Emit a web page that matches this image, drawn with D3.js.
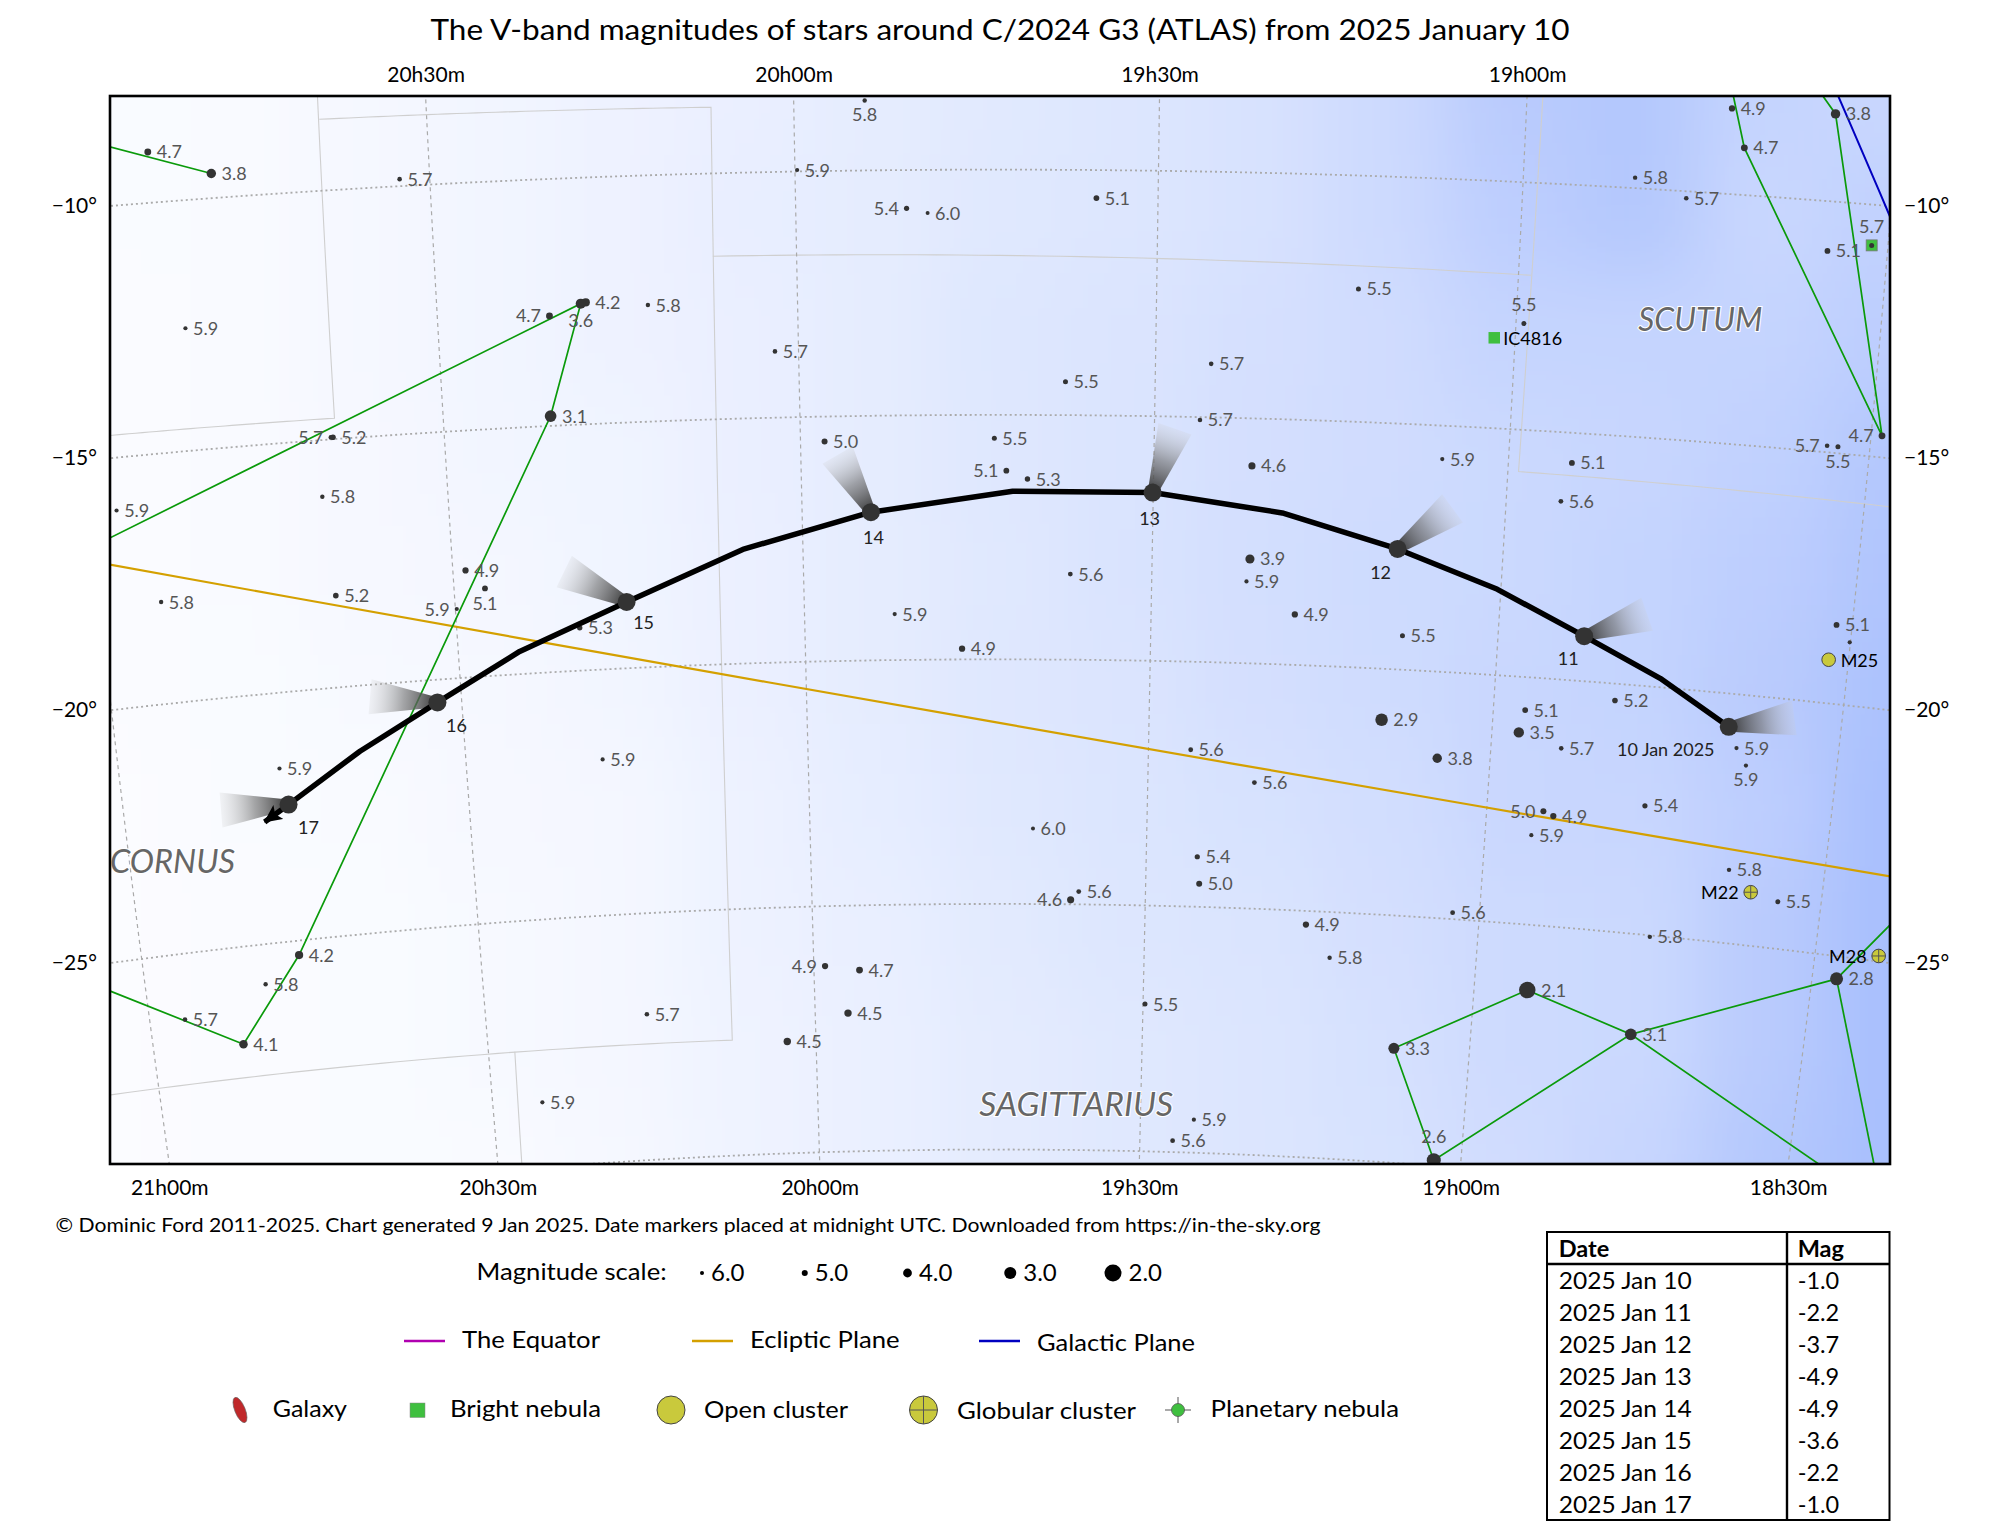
<!DOCTYPE html>
<html>
<head>
<meta charset="utf-8">
<script src="https://cdn.jsdelivr.net/npm/d3@7"></script>
<style>
body { margin: 0; background: #fff; }
svg { display: block; }
text { font-family: Lato, "Noto Sans", sans-serif; }
</style>
</head>
<body>
<div id="container"></div>
<script>
// stars: right ascension (hours), declination (degrees), V magnitude
let starRA = [20.878,20.795,20.541,19.903,19.997,19.847,19.818,20.294,20.301,20.345,
  20.208,20.846,20.033,20.350,20.658,20.655,19.966,19.726,20.963,20.676,
  20.482,20.456,20.498,20.668,20.914,19.709,19.679,18.723,18.584,18.703,
  19.585,18.848,18.777,18.581,18.522,19.220,18.989,19.422,19.626,19.436,
  19.093,19.361,18.911,18.923,18.485,18.559,18.544,19.360,19.364,19.617,
  20.324,19.870,19.773,20.770,20.301,20.769,20.823,20.948,20.866,19.983,
  19.931,19.950,20.044,20.256,20.424,19.293,19.137,18.522,18.501,18.826,
  18.954,19.161,18.961,18.898,18.646,18.630,19.438,19.077,19.343,18.917,
  18.902,18.770,18.932,19.669,19.424,19.420,19.600,19.612,18.639,18.563,
  19.040,19.258,18.745,19.220,18.464,18.920,19.497,18.759,19.115,19.417,
  19.449,19.042];
let starDec = [-8.99,-9.51,-9.86,-8.58,-9.97,-10.78,-10.88,-12.53,-12.55,-12.77,
  -12.63,-12.55,-13.65,-14.80,-14.96,-14.96,-15.51,-15.48,-16.05,-16.14,
  -17.83,-18.22,-18.60,-18.15,-17.96,-16.14,-16.31,-8.29,-8.26,-9.06,
  -10.57,-9.79,-10.14,-10.99,-10.81,-12.30,-12.85,-13.91,-14.32,-15.06,
  -15.68,-15.97,-15.61,-16.40,-14.57,-14.87,-14.87,-17.87,-18.33,-18.25,
  -19.13,-19.06,-19.78,-21.52,-21.83,-25.29,-25.80,-26.31,-26.94,-26.22,
  -26.32,-27.19,-27.73,-27.05,-28.69,-18.97,-19.31,-18.42,-18.74,-20.34,
  -20.67,-21.04,-21.13,-21.39,-21.08,-21.41,-21.80,-21.76,-22.43,-22.69,
  -22.77,-22.41,-23.19,-23.46,-23.98,-24.53,-24.74,-24.91,-23.53,-24.06,
  -24.87,-25.28,-25.03,-25.93,-25.45,-26.32,-27.01,-27.02,-27.69,-29.33,
  -29.77,-29.89];
let starMag = [4.7,3.8,5.7,5.8,5.9,5.4,6.0,4.2,3.6,4.7,
  5.8,5.9,5.7,3.1,5.7,5.2,5.0,5.5,5.9,5.8,
  4.9,5.1,5.9,5.2,5.8,5.1,5.3,4.9,3.8,4.7,
  5.1,5.8,5.7,5.1,5.7,5.5,5.5,5.7,5.5,5.7,
  5.9,4.6,5.1,5.6,4.7,5.7,5.5,3.9,5.9,5.6,
  5.3,5.9,4.9,5.9,5.9,4.2,5.8,5.7,4.1,4.9,
  4.7,4.5,4.5,5.7,5.9,4.9,5.5,5.1,5.9,5.2,
  5.1,2.9,3.5,5.7,5.9,5.9,5.6,3.8,5.6,5.0,
  4.9,5.4,5.9,6.0,5.4,5.0,5.6,4.6,5.8,5.5,
  5.6,4.9,5.8,5.8,2.8,2.1,5.5,3.1,3.3,5.9,
  5.6,2.6];
// which side of its star each magnitude label sits; N = no label
let starSide = ("RRRBRLRRBL" + "RRRRLRRRRR" + "RBLRRLRRRR" + "RRRRTRTRRR" + "RRRRLLBRRR" +
  "RRRRRRRRRL" + "RRRRRRRRNR" + "RRRRRBRRRL" + "RRRRRRRLRR" + "RRRRRRRRRR" + "RT").split("");

// comet track, Jan 10 to Jan 17 with half day vertices
let cometRA = [18.660,18.764,18.877,19.005,19.150,19.316,19.501,19.700,19.902,20.086,20.255,20.412,20.535,20.652,20.762,20.799];
let cometDec = [-20.67,-19.82,-19.09,-18.26,-17.55,-16.91,-16.56,-16.56,-16.97,-17.67,-18.65,-19.54,-20.46,-21.32,-22.26,-22.56];
let tailRA = [18.568,18.790,19.075,19.471,19.948,20.342,20.631,20.860];
let tailDec = [-20.36,-18.55,-16.67,-15.25,-15.79,-17.97,-20.24,-22.23];
let dayLabels = ["10 Jan 2025","11","12","13","14","15","16","17"];

// great circle and stick figure lines, as [ra, dec] vertices
let eclipticLine = [[21.047,-16.83],[18.332,-23.33]];
let galacticLine = [[18.613,-7.02],[18.419,-12.48]];
let stickFigures = [
  [[20.993,-8.49],[20.795,-9.51]],
  [[21.049,-16.97],[20.301,-12.55],[20.350,-14.80],[20.769,-25.29],[20.866,-26.94],[21.121,-25.02]],
  [[18.739,-7.14],[18.703,-9.06],[18.485,-14.57],[18.584,-8.26],[18.650,-7.06]],
  [[19.115,-27.69],[18.920,-26.32],[18.759,-27.02],[18.464,-25.45],[18.334,-23.12]],
  [[19.115,-27.69],[19.042,-29.89],[18.759,-27.02],[18.344,-29.86]],
  [[18.464,-25.45],[18.347,-29.87]]
];
let boundaries = [
  [[20.645,-7.38],[20.651,-14.58],[21.031,-14.54]],
  [[20.645,-8.57],[20.113,-8.66],[20.128,-27.66],[21.149,-27.59]],
  [[20.460,-27.63],[20.464,-30.62]],
  [[20.116,-11.68],[18.983,-11.87]],
  [[18.978,-7.52],[18.985,-15.85],[18.395,-15.98]]
];

// deep sky objects
let dsoNames = ["IC4816","M25","M22","M28",""];
let dsoKinds = ["nebula","open","globular","globular","nebula"];
let dsoRA = [19.029,18.528,18.604,18.407,18.522];
let dsoDec = [-13.17,-19.13,-23.93,-24.89,-10.81];

let conNames = ["SCUTUM","CORNUS","SAGITTARIUS"];
let conRA = [18.747,20.938,19.600];
let conDec = [-12.52,-23.13,-29.05];

let raTopTicks = [20.5,20,19.5,19];
let raBottomTicks = [21,20.5,20,19.5,19,18.5];
let decTicks = [-10,-15,-20,-25];
let raGrid = d3.range(18,21.6,0.5);
let decGrid = [-5,-10,-15,-20,-25,-30];

let scaleMags = [6.0,5.0,4.0,3.0,2.0];
let lineNames = ["The Equator","Ecliptic Plane","Galactic Plane"];
let symbolNames = ["Galaxy","Bright nebula","Open cluster","Globular cluster","Planetary nebula"];
let tableDates = ["2025 Jan 10","2025 Jan 11","2025 Jan 12","2025 Jan 13","2025 Jan 14","2025 Jan 15","2025 Jan 16","2025 Jan 17"];
let tableMags = ["-1.0","-2.2","-3.7","-4.9","-4.9","-3.6","-2.2","-1.0"];

let skyGlow = [
  [.02,.03,.07,.11,.16,.21,.27,.31,.36,.42,.55,.80,.85,.65,.60],
  [.02,.03,.07,.11,.16,.23,.27,.33,.36,.42,.55,.75,.85,.60,.70],
  [.01,.03,.07,.11,.16,.21,.27,.35,.39,.46,.52,.65,.65,.65,.75],
  [.01,.03,.06,.11,.13,.21,.26,.34,.40,.47,.52,.58,.62,.70,.85],
  [.01,.03,.06,.08,.13,.19,.26,.33,.41,.48,.54,.58,.66,.75,.90],
  [.01,.02,.05,.07,.11,.19,.27,.34,.39,.47,.53,.60,.66,.80,.95],
  [.00,.02,.03,.06,.09,.17,.25,.32,.38,.43,.50,.60,.62,.75,1.0],
  [.00,.01,.02,.05,.08,.17,.22,.30,.36,.40,.47,.55,.58,.80,1.0],
  [.00,.01,.02,.05,.08,.14,.20,.28,.33,.37,.45,.55,.58,.80,1.0],
  [.00,.01,.02,.03,.07,.14,.20,.28,.33,.37,.43,.52,.62,.85,1.0]
];

let width = 1999, height = 1525;
let plot = {left: 110, right: 1890, top: 96, bottom: 1164};

let projection = d3.geoStereographic()
  .reflectX(true)
  .rotate([-295.77, 19.4])
  .scale(5600)
  .translate([1000, 630])
  .precision(0.1);
let geoPath = d3.geoPath(projection);
let lineGen = d3.line();
let sky = function(ra, dec) { return projection([ra * 15, dec]); };

let radius = d3.scaleLinear().domain([2,3,4,5,6]).range([8.5,6,4.4,3,2]);
let glowColor = d3.scaleLinear().domain([0,1]).range(["#fbfcff","#a8bffd"]);

let svg = d3.select("#container").append("svg").attr("width", width).attr("height", height);
let defs = svg.append("defs");
defs.append("clipPath").attr("id", "plotClip").append("rect")
  .attr("x", plot.left).attr("y", plot.top)
  .attr("width", plot.right - plot.left).attr("height", plot.bottom - plot.top);
let blur = defs.append("filter").attr("id", "skyBlur").attr("filterUnits", "userSpaceOnUse")
  .attr("x", -300).attr("y", -300).attr("width", 2600).attr("height", 2100);
blur.append("feGaussianBlur").attr("stdDeviation", 38);

let text = function(parent, x, y, str, size, opts) {
  opts = opts || {};
  let t = parent.append("text").attr("x", x).attr("y", y).text(str)
    .attr("font-size", size)
    .attr("fill", opts.fill || "#000")
    .attr("text-anchor", opts.anchor || "start");
  if (opts.weight) t.attr("font-weight", opts.weight);
  if (opts.fit) t.attr("textLength", opts.fit).attr("lengthAdjust", "spacingAndGlyphs");
  return t;
};

// --- plot area ---
let g = svg.append("g").attr("clip-path", "url(#plotClip)");

// backdrop
let colX = d3.scaleBand().domain(d3.range(skyGlow[0].length)).range([plot.left - 64, plot.right + 64]);
let rowY = d3.scaleBand().domain(d3.range(skyGlow.length)).range([plot.top - 60, plot.bottom + 60]);
let nCol = skyGlow[0].length, nRow = skyGlow.length;
let skyG = g.append("g").attr("filter", "url(#skyBlur)");
skyGlow.forEach(function(row, r) {
  row.forEach(function(v, c) {
    let x0 = colX(c) - (c === 0 ? 200 : 0), x1 = colX(c) + colX.bandwidth() + (c === nCol - 1 ? 200 : 0.5);
    let y0 = rowY(r) - (r === 0 ? 200 : 0), y1 = rowY(r) + rowY.bandwidth() + (r === nRow - 1 ? 200 : 0.5);
    skyG.append("rect").attr("x", x0).attr("y", y0).attr("width", x1 - x0).attr("height", y1 - y0)
      .attr("fill", glowColor(v));
  });
});

// boundaries, dense so parallels bend properly
let dense = function(verts) {
  let out = [];
  d3.pairs(verts).forEach(function(p) {
    d3.range(0, 1, 0.025).forEach(function(t) {
      out.push(sky(p[0][0] + (p[1][0] - p[0][0]) * t, p[0][1] + (p[1][1] - p[0][1]) * t));
    });
  });
  let last = verts[verts.length - 1];
  out.push(sky(last[0], last[1]));
  return out;
};
g.selectAll("path.boundary").data(boundaries).join("path").attr("class", "boundary")
  .attr("d", function(d) { return lineGen(dense(d)); })
  .attr("fill", "none").attr("stroke", "#cfcfcf").attr("stroke-width", 1.1);

// grid
g.selectAll("path.ra").data(raGrid).join("path").attr("class", "ra")
  .attr("d", function(d) { return lineGen(dense([[d,-35],[d,-3]])); })
  .attr("fill", "none").attr("stroke", "#aaa").attr("stroke-width", 1.2).attr("stroke-dasharray", "4,4");
g.selectAll("path.dec").data(decGrid).join("path").attr("class", "dec")
  .attr("d", function(d) { return lineGen(dense([[17.8,d],[21.6,d]])); })
  .attr("fill", "none").attr("stroke", "#aaa").attr("stroke-width", 1.8).attr("stroke-dasharray", "2,3");

// great circles
let geoLine = function(verts) {
  return geoPath({type: "LineString", coordinates: verts.map(function(v) { return [v[0] * 15, v[1]]; })});
};
g.append("path").attr("d", geoLine(eclipticLine)).attr("fill", "none").attr("stroke", "#d4a000").attr("stroke-width", 2.2);
g.append("path").attr("d", geoLine(galacticLine)).attr("fill", "none").attr("stroke", "#0000c0").attr("stroke-width", 2);
g.selectAll("path.stick").data(stickFigures).join("path").attr("class", "stick")
  .attr("d", function(d) { return lineGen(d.map(function(v) { return sky(v[0], v[1]); })); })
  .attr("fill", "none").attr("stroke", "#0a9a0a").attr("stroke-width", 1.7);

// stars
starRA.forEach(function(ra, i) {
  let p = sky(ra, starDec[i]), m = starMag[i], r = radius(m), side = starSide[i];
  g.append("circle").attr("cx", p[0]).attr("cy", p[1]).attr("r", r).attr("fill", "#333");
  if (side === "N") return;
  let label = m.toFixed(1);
  let opts = {fill: "#555"};
  if (side === "R") text(g, p[0] + r + 5.5, p[1] + 6.5, label, 18, opts);
  if (side === "L") { opts.anchor = "end"; text(g, p[0] - r - 5, p[1] + 6.5, label, 18, opts); }
  if (side === "T") { opts.anchor = "middle"; text(g, p[0], p[1] - r - 10, label, 18, opts); }
  if (side === "B") { opts.anchor = "middle"; text(g, p[0], p[1] + r + 18.5, label, 18, opts); }
});

// deep sky objects
let drawCluster = function(parent, x, y, r, cross) {
  parent.append("circle").attr("cx", x).attr("cy", y).attr("r", r)
    .attr("fill", "#c9c93c").attr("stroke", "#444").attr("stroke-width", 1);
  if (cross) {
    parent.append("path").attr("d", "M" + (x - r) + "," + y + "H" + (x + r) + "M" + x + "," + (y - r) + "V" + (y + r))
      .attr("stroke", "#555").attr("stroke-width", 1);
  }
};
dsoRA.forEach(function(ra, i) {
  let p = sky(ra, dsoDec[i]), kind = dsoKinds[i], name = dsoNames[i];
  if (kind === "nebula") {
    let s = name ? 11.5 : 11;
    g.append("rect").attr("x", p[0] - s / 2).attr("y", p[1] - s / 2).attr("width", s).attr("height", s)
      .attr("fill", "#3fbf3f").attr("stroke", name ? "none" : "#777").attr("stroke-width", 0.8);
    if (!name) g.append("circle").attr("cx", p[0]).attr("cy", p[1]).attr("r", 2.5).attr("fill", "#333");
    if (name) text(g, p[0] + 9, p[1] + 7, name, 18);
  } else {
    drawCluster(g, p[0], p[1], 6.8, kind === "globular");
    if (name === "M25") text(g, p[0] + 12, p[1] + 7, name, 18);
    else text(g, p[0] - 12, p[1] + 7, name, 18, {anchor: "end"});
  }
});

// constellation names
let conFit = [124,125,194];
conNames.forEach(function(name, i) {
  let p = sky(conRA[i], conDec[i]);
  text(g, p[0], p[1], name, 32, {anchor: "middle", fill: "#666", fit: conFit[i]})
    .attr("font-style", "italic").attr("stroke", "#fff").attr("stroke-width", 2.2)
    .attr("paint-order", "stroke").attr("dominant-baseline", "central");
});

// comet tails
let headPoints = dayLabels.map(function(d, i) { return sky(cometRA[i * 2], cometDec[i * 2]); });
tailRA.forEach(function(ra, i) {
  let h = headPoints[i], t = sky(ra, tailDec[i]);
  let dx = t[0] - h[0], dy = t[1] - h[1], len = Math.hypot(dx, dy);
  let nx = -dy / len, ny = dx / len;
  let grad = defs.append("linearGradient").attr("id", "tail" + i).attr("gradientUnits", "userSpaceOnUse")
    .attr("x1", h[0]).attr("y1", h[1]).attr("x2", t[0]).attr("y2", t[1]);
  grad.append("stop").attr("offset", 0).attr("stop-color", "#333").attr("stop-opacity", 0.98);
  grad.append("stop").attr("offset", 0.5).attr("stop-color", "#777").attr("stop-opacity", 0.65);
  grad.append("stop").attr("offset", 1).attr("stop-color", "#ccc").attr("stop-opacity", 0.2);
  g.append("path").attr("fill", "url(#tail" + i + ")")
    .attr("d", lineGen([[h[0] + nx * 5, h[1] + ny * 5], [t[0] + nx * 17.5, t[1] + ny * 17.5],
      [t[0] - nx * 17.5, t[1] - ny * 17.5], [h[0] - nx * 5, h[1] - ny * 5]]) + "Z");
});

// comet track
defs.append("marker").attr("id", "arrow").attr("markerUnits", "userSpaceOnUse")
  .attr("viewBox", "0 -9 18 18").attr("markerWidth", 18).attr("markerHeight", 18)
  .attr("refX", 17).attr("refY", 0).attr("orient", "auto")
  .append("path").attr("d", "M0,-8.5L18,0L0,8.5L4,0Z").attr("fill", "#000");
g.append("path").attr("d", lineGen(cometRA.map(function(ra, i) { return sky(ra, cometDec[i]); })))
  .attr("fill", "none").attr("stroke", "#000").attr("stroke-width", 5.5).attr("stroke-linejoin", "round")
  .attr("marker-end", "url(#arrow)");
let labelOffsets = [[-63,29],[-16,29],[-17,30],[-3,32],[2.5,32],[17,27],[19,30],[20,29]];
headPoints.forEach(function(h, i) {
  g.append("circle").attr("cx", h[0]).attr("cy", h[1]).attr("r", 9).attr("fill", "#333");
  text(g, h[0] + labelOffsets[i][0], h[1] + labelOffsets[i][1], dayLabels[i], 18, {anchor: "middle", fill: "#222"});
});

// --- frame and axes ---
svg.append("rect").attr("x", plot.left).attr("y", plot.top)
  .attr("width", plot.right - plot.left).attr("height", plot.bottom - plot.top)
  .attr("fill", "none").attr("stroke", "#000").attr("stroke-width", 2.6);

// where a grid line meets the frame
let solve = function(fn, lo, hi, target) {
  let sign = fn(hi) > fn(lo) ? 1 : -1;
  for (let k = 0; k < 50; k++) {
    let mid = (lo + hi) / 2;
    if ((fn(mid) - target) * sign > 0) hi = mid; else lo = mid;
  }
  return (lo + hi) / 2;
};
let raCross = function(ra, edgeY) {
  let dec = solve(function(d) { return sky(ra, d)[1]; }, -40, 0, edgeY);
  return sky(ra, dec)[0];
};
let decCross = function(dec, edgeX) {
  let ra = solve(function(a) { return sky(a, dec)[0]; }, 17, 22, edgeX);
  return sky(ra, dec)[1];
};
let raFormat = function(d) {
  let h = Math.floor(d), m = Math.round((d - h) * 60);
  return h + "h" + d3.format("02")(m) + "m";
};
let decFormat = function(d) { return "\u2212" + Math.abs(d) + "\u00b0"; };
let topScale = d3.scaleLinear().domain(raTopTicks).range(raTopTicks.map(function(d) { return raCross(d, plot.top); }));
let bottomScale = d3.scaleLinear().domain(raBottomTicks).range(raBottomTicks.map(function(d) { return raCross(d, plot.bottom); }));
let leftScale = d3.scaleLinear().domain(decTicks).range(decTicks.map(function(d) { return decCross(d, plot.left); }));
let rightScale = d3.scaleLinear().domain(decTicks).range(decTicks.map(function(d) { return decCross(d, plot.right); }));
let styleAxis = function(sel) {
  sel.select(".domain").remove();
  sel.selectAll("text").attr("font-size", 21).attr("font-family", "Lato").attr("fill", "#000");
};
svg.append("g").attr("transform", "translate(0," + plot.top + ")")
  .call(d3.axisTop(topScale).tickValues(raTopTicks).tickSize(0).tickPadding(14.5).tickFormat(raFormat)).call(styleAxis);
svg.append("g").attr("transform", "translate(0," + plot.bottom + ")")
  .call(d3.axisBottom(bottomScale).tickValues(raBottomTicks).tickSize(0).tickPadding(16).tickFormat(raFormat)).call(styleAxis);
svg.append("g").attr("transform", "translate(" + plot.left + ",0)")
  .call(d3.axisLeft(leftScale).tickValues(decTicks).tickSize(0).tickPadding(13).tickFormat(decFormat)).call(styleAxis);
svg.append("g").attr("transform", "translate(" + plot.right + ",0)")
  .call(d3.axisRight(rightScale).tickValues(decTicks).tickSize(0).tickPadding(14).tickFormat(decFormat)).call(styleAxis);

// --- title and footer ---
text(svg, 1000, 39.5, "The V-band magnitudes of stars around C/2024 G3 (ATLAS) from 2025 January 10", 29.5, {anchor: "middle", fit: 1139});
text(svg, 55.5, 1232, "\u00a9 Dominic Ford 2011-2025. Chart generated 9 Jan 2025. Date markers placed at midnight UTC. Downloaded from https://in-the-sky.org", 20, {fit: 1265});

// --- magnitude scale ---
text(svg, 476.6, 1280, "Magnitude scale:", 24, {fit: 190});
let scaleX = d3.scalePoint().domain(scaleMags).range([702, 1113]);
scaleMags.forEach(function(m) {
  let x = scaleX(m);
  svg.append("circle").attr("cx", x).attr("cy", 1273).attr("r", radius(m)).attr("fill", "#000");
  text(svg, x + radius(m) + 7, 1281, m.toFixed(1), 24);
});

// --- line legend ---
let lineColors = ["#b000b0","#d4a000","#0000c0"];
let lineX = [404,692,979], lineBase = [1348,1348,1350.5];
let lineFit = [138,149.6,158];
lineNames.forEach(function(name, i) {
  svg.append("line").attr("x1", lineX[i]).attr("x2", lineX[i] + 41).attr("y1", 1341).attr("y2", 1341)
    .attr("stroke", lineColors[i]).attr("stroke-width", 2.4);
  text(svg, lineX[i] + 58, lineBase[i], name, 24, {fit: lineFit[i]});
});

// --- symbol legend ---
let symX = [272.7,450,704,957,1210.5], symBase = [1416.7,1416.7,1417.5,1419,1416.7];
let symFit = [74.3,151,144,179,188.5];
symbolNames.forEach(function(name, i) { text(svg, symX[i], symBase[i], name, 24, {fit: symFit[i]}); });
svg.append("ellipse").attr("cx", 0).attr("cy", 0).attr("rx", 13.5).attr("ry", 5.2)
  .attr("transform", "translate(240,1410) rotate(68)").attr("fill", "#c0282a").attr("stroke", "#666").attr("stroke-width", 0.6);
svg.append("rect").attr("x", 410).attr("y", 1403).attr("width", 15).attr("height", 14.5).attr("fill", "#3fbf3f").attr("stroke", "#888").attr("stroke-width", 0.5);
drawCluster(svg, 671, 1410, 14, false);
drawCluster(svg, 923.5, 1410, 14, true);
svg.append("path").attr("d", "M1165,1410H1191M1178,1397V1423").attr("stroke", "#555").attr("stroke-width", 1);
svg.append("circle").attr("cx", 1178).attr("cy", 1410).attr("r", 6.5).attr("fill", "#3fbf3f").attr("stroke", "#555").attr("stroke-width", 0.8);

// --- magnitude table ---
let table = svg.append("g");
let tx0 = 1547, tx1 = 1787, tx2 = 1889.5, ty0 = 1232, ty1 = 1264, ty2 = 1520;
table.append("rect").attr("x", tx0).attr("y", ty0).attr("width", tx2 - tx0).attr("height", ty2 - ty0)
  .attr("fill", "none").attr("stroke", "#000").attr("stroke-width", 2);
table.append("path").attr("d", "M" + tx0 + "," + ty1 + "H" + tx2 + "M" + tx1 + "," + ty0 + "V" + ty2)
  .attr("stroke", "#000").attr("stroke-width", 2.4);
text(table, 1558.7, 1257, "Date", 23.5, {weight: 700});
text(table, 1797.7, 1257, "Mag", 23.5, {weight: 700});
let rowScale = d3.scalePoint().domain(tableDates).range([1289, 1512.7]);
tableDates.forEach(function(d, i) {
  text(table, 1558.7, rowScale(d), d, 23.5, {fit: 133});
  text(table, 1797.7, rowScale(d), tableMags[i], 23.5);
});
</script>
</body>
</html>
